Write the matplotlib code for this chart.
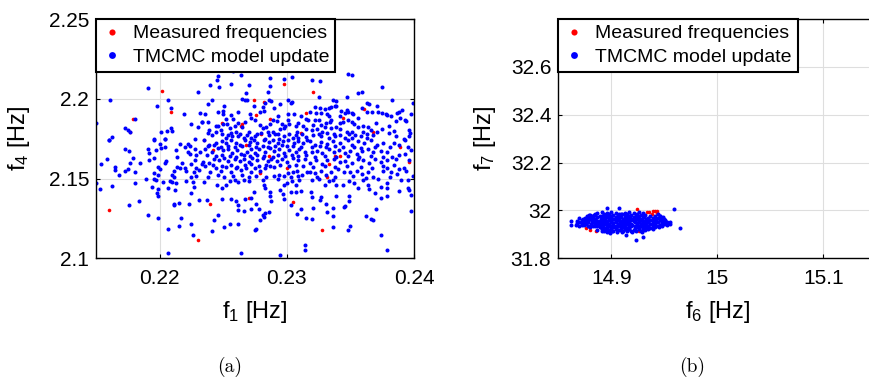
import matplotlib
matplotlib.use('Agg')
import matplotlib.pyplot as plt

plt.rcParams['font.family'] = ['Liberation Sans', 'DejaVu Sans']
plt.rcParams['mathtext.default'] = 'regular'

# ---------------- panel (a): f1 vs f4 ----------------
measured_a = [
    (0.2202, 2.2048), (0.2209, 2.1919), (0.2179, 2.1873), (0.2177, 2.1792),
    (0.2274, 2.1990), (0.2282, 2.1980), (0.2276, 2.1898), (0.2287, 2.1873),
    (0.2298, 2.2094), (0.2321, 2.2040), (0.2249, 2.1850), (0.2265, 2.1844),
    (0.2264, 2.1830), (0.2235, 2.1740), (0.2268, 2.1710), (0.2242, 2.1677),
    (0.2311, 2.1785), (0.2315, 2.1910), (0.2361, 2.1935), (0.2344, 2.1880),
    (0.2368, 2.1790), (0.2389, 2.1698), (0.2396, 2.1606), (0.2338, 2.1640),
    (0.2342, 2.1640), (0.2333, 2.1594), (0.2286, 2.1640), (0.2279, 2.1533),
    (0.2300, 2.1567), (0.2332, 2.1510), (0.2160, 2.1304), (0.2240, 2.1338),
    (0.2230, 2.1113), (0.2270, 2.1379), (0.2305, 2.1354), (0.2328, 2.1175),
    (0.2280, 2.1782),
]

tmcmc_a = [
    # upper left
    (0.2191, 2.2069), (0.2230, 2.2040), (0.2161, 2.1992), (0.2207, 2.1994),
    (0.2198, 2.1952), (0.2209, 2.1944), (0.2219, 2.1902), (0.2232, 2.1911),
    (0.2181, 2.1873), (0.2225, 2.1844), (0.2233, 2.1857), (0.2230, 2.1823),
    (0.2150, 2.1848), (0.2173, 2.1817), (0.2175, 2.1807), (0.2177, 2.1794),
    (0.2209, 2.1815), (0.2206, 2.1798), (0.2210, 2.1798), (0.2201, 2.1790),
    (0.2163, 2.1759), (0.2196, 2.1746), (0.2204, 2.1748), (0.2228, 2.1748),
    (0.2160, 2.1744),
    # lower left
    (0.2160, 2.1740), (0.2173, 2.1688), (0.2176, 2.1673), (0.2179, 2.1631),
    (0.2154, 2.1594), (0.2159, 2.1625), (0.2165, 2.1571), (0.2165, 2.1552),
    (0.2168, 2.1525), (0.2173, 2.1546), (0.2175, 2.1559), (0.2177, 2.1598),
    (0.2181, 2.1540), (0.2191, 2.1688), (0.2192, 2.1658), (0.2192, 2.1615),
    (0.2197, 2.1677), (0.2196, 2.1631), (0.2196, 2.1740), (0.2200, 2.1715),
    (0.2201, 2.1692), (0.2204, 2.1696), (0.2204, 2.1750), (0.2216, 2.1715),
    (0.2214, 2.1636), (0.2222, 2.1719), (0.2220, 2.1696), (0.2224, 2.1704),
    (0.2222, 2.1667), (0.2228, 2.1688), (0.2224, 2.1656), (0.2229, 2.1646),
    (0.2232, 2.1667), (0.2228, 2.1619), (0.2225, 2.1588), (0.2233, 2.1594),
    (0.2229, 2.1567), (0.2231, 2.1552), (0.2227, 2.1538), (0.2225, 2.1509),
    (0.2229, 2.1517), (0.2214, 2.1571), (0.2216, 2.1567), (0.2220, 2.1563),
    (0.2221, 2.1546), (0.2211, 2.1546), (0.2210, 2.1525), (0.2211, 2.1509),
    (0.2204, 2.1598), (0.2199, 2.1575), (0.2200, 2.1559), (0.2196, 2.1532),
    (0.2199, 2.1525), (0.2189, 2.1496), (0.2196, 2.1500), (0.2197, 2.1492),
    (0.2181, 2.1469), (0.2203, 2.1480), (0.2208, 2.1486), (0.2210, 2.1480),
    (0.2213, 2.1471), (0.2221, 2.1484), (0.2150, 2.1473), (0.2153, 2.1434),
    (0.2163, 2.1455), (0.2194, 2.1446), (0.2199, 2.1432), (0.2198, 2.1411),
    (0.2199, 2.1390), (0.2207, 2.1442), (0.2212, 2.1430), (0.2227, 2.1448),
    (0.2225, 2.1411), (0.2231, 2.1363), (0.2184, 2.1361), (0.2176, 2.1332),
    (0.2211, 2.1342), (0.2215, 2.1346), (0.2211, 2.1334), (0.2223, 2.1338),
    (0.2191, 2.1272), (0.2199, 2.1251), (0.2217, 2.1255), (0.2207, 2.1184),
    (0.2215, 2.1203), (0.2225, 2.1213), (0.2226, 2.1147), (0.2207, 2.1030),
    (0.2205, 2.1610), (0.2218, 2.1600), (0.2213, 2.1680), (0.2185, 2.1600),
    (0.2226, 2.1480),
    # upper middle
    (0.2258, 2.2173), (0.2246, 2.2144), (0.2245, 2.2119), (0.2240, 2.2085),
    (0.2247, 2.2073), (0.2256, 2.2094), (0.2264, 2.2152), (0.2270, 2.2089),
    (0.2268, 2.2035), (0.2267, 2.1994), (0.2285, 2.2040), (0.2287, 2.2131),
    (0.2287, 2.2077), (0.2298, 2.2127), (0.2304, 2.2139), (0.2238, 2.1969),
    (0.2241, 2.1994), (0.2251, 2.1956), (0.2246, 2.1919), (0.2250, 2.1923),
    (0.2250, 2.1902), (0.2252, 2.1873), (0.2236, 2.1906), (0.2233, 2.1852),
    (0.2238, 2.1857), (0.2239, 2.1807), (0.2238, 2.1786), (0.2244, 2.1832),
    (0.2244, 2.1790), (0.2248, 2.1802), (0.2250, 2.1844), (0.2255, 2.1815),
    (0.2256, 2.1786), (0.2259, 2.1827), (0.2260, 2.1790), (0.2258, 2.1873),
    (0.2262, 2.1915), (0.2265, 2.1998), (0.2269, 2.1990), (0.2274, 2.1952),
    (0.2271, 2.1902), (0.2275, 2.1865), (0.2279, 2.1915), (0.2282, 2.1923),
    (0.2281, 2.1948), (0.2283, 2.1973), (0.2286, 2.1990), (0.2288, 2.1985),
    (0.2295, 2.1967), (0.2301, 2.1990), (0.2304, 2.1981), (0.2303, 2.1973),
    (0.2290, 2.1940), (0.2289, 2.1869), (0.2287, 2.1840), (0.2292, 2.1861),
    (0.2295, 2.1811), (0.2298, 2.1815), (0.2298, 2.1765), (0.2293, 2.1782),
    (0.2289, 2.1794), (0.2285, 2.1794), (0.2281, 2.1815), (0.2279, 2.1836),
    (0.2267, 2.1857), (0.2265, 2.1823), (0.2270, 2.1794), (0.2275, 2.1765),
    (0.2280, 2.1786), (0.2283, 2.1748), (0.2257, 2.1765), (0.2252, 2.1757),
    (0.2262, 2.1765), (0.2266, 2.1752), (0.2272, 2.1757), (0.2301, 2.1902),
    (0.2301, 2.1869), (0.2302, 2.1844), (0.2307, 2.1827), (0.2311, 2.1890),
    (0.2315, 2.1873), (0.2313, 2.1832), (0.2315, 2.1811), (0.2308, 2.1794),
    (0.2312, 2.1782), (0.2305, 2.1757), (0.2309, 2.1752), (0.2315, 2.1761),
    (0.2294, 2.1748), (0.2299, 2.1827),
    (0.2241, 2.1772), (0.2249, 2.1780), (0.2254, 2.1770), (0.2263, 2.1778),
    (0.2269, 2.1771), (0.2277, 2.1779), (0.2286, 2.1770), (0.2291, 2.1776),
    (0.2302, 2.1779), (0.2307, 2.1771), (0.2246, 2.1830), (0.2253, 2.1840),
    (0.2262, 2.1846), (0.2284, 2.1825), (0.2296, 2.1840), (0.2309, 2.1850),
    (0.2272, 2.1880), (0.2293, 2.1890), (0.2306, 2.1905), (0.2256, 2.1898),
    # lower middle
    (0.2235, 2.1740), (0.2239, 2.1713), (0.2244, 2.1725), (0.2249, 2.1733),
    (0.2252, 2.1725), (0.2256, 2.1740), (0.2260, 2.1725), (0.2263, 2.1713),
    (0.2267, 2.1740), (0.2271, 2.1729), (0.2274, 2.1740), (0.2277, 2.1725),
    (0.2282, 2.1740), (0.2286, 2.1729), (0.2289, 2.1740), (0.2293, 2.1725),
    (0.2297, 2.1733), (0.2301, 2.1740), (0.2306, 2.1725), (0.2309, 2.1733),
    (0.2313, 2.1721), (0.2316, 2.1740),
    (0.2238, 2.1702), (0.2243, 2.1708), (0.2248, 2.1700), (0.2254, 2.1706),
    (0.2259, 2.1698), (0.2265, 2.1704), (0.2270, 2.1709), (0.2276, 2.1700),
    (0.2281, 2.1706), (0.2285, 2.1698), (0.2291, 2.1704), (0.2296, 2.1710),
    (0.2300, 2.1701), (0.2305, 2.1706), (0.2311, 2.1699),
    (0.2236, 2.1688), (0.2241, 2.1667), (0.2246, 2.1692), (0.2250, 2.1677),
    (0.2254, 2.1688), (0.2257, 2.1663), (0.2261, 2.1677), (0.2264, 2.1656),
    (0.2269, 2.1667), (0.2272, 2.1688), (0.2275, 2.1663), (0.2278, 2.1683),
    (0.2283, 2.1667), (0.2287, 2.1692), (0.2290, 2.1671), (0.2294, 2.1688),
    (0.2298, 2.1663), (0.2302, 2.1679), (0.2307, 2.1667), (0.2310, 2.1688),
    (0.2314, 2.1667),
    (0.2237, 2.1648), (0.2244, 2.1641), (0.2249, 2.1650), (0.2255, 2.1644),
    (0.2260, 2.1638), (0.2266, 2.1646), (0.2271, 2.1640), (0.2277, 2.1649),
    (0.2282, 2.1643), (0.2289, 2.1638), (0.2293, 2.1650), (0.2299, 2.1641),
    (0.2304, 2.1647), (0.2309, 2.1640), (0.2315, 2.1648),
    (0.2234, 2.1604), (0.2239, 2.1600), (0.2243, 2.1625), (0.2247, 2.1615),
    (0.2251, 2.1629), (0.2254, 2.1609), (0.2259, 2.1625), (0.2263, 2.1609),
    (0.2266, 2.1621), (0.2270, 2.1604), (0.2273, 2.1629), (0.2277, 2.1613),
    (0.2281, 2.1629), (0.2285, 2.1609), (0.2288, 2.1625), (0.2292, 2.1609),
    (0.2296, 2.1621), (0.2300, 2.1604), (0.2305, 2.1629), (0.2309, 2.1613),
    (0.2314, 2.1625),
    (0.2236, 2.1577), (0.2242, 2.1585), (0.2249, 2.1579), (0.2256, 2.1586),
    (0.2261, 2.1575), (0.2267, 2.1583), (0.2272, 2.1590), (0.2278, 2.1578),
    (0.2284, 2.1586), (0.2290, 2.1574), (0.2295, 2.1583), (0.2302, 2.1577),
    (0.2307, 2.1586), (0.2313, 2.1579),
    (0.2240, 2.1542), (0.2244, 2.1567), (0.2248, 2.1550), (0.2252, 2.1573),
    (0.2256, 2.1542), (0.2260, 2.1567), (0.2264, 2.1552), (0.2268, 2.1563),
    (0.2272, 2.1542), (0.2275, 2.1567), (0.2279, 2.1550), (0.2283, 2.1563),
    (0.2287, 2.1579), (0.2290, 2.1517), (0.2294, 2.1521), (0.2298, 2.1517),
    (0.2301, 2.1534), (0.2305, 2.1542), (0.2308, 2.1550), (0.2312, 2.1521),
    (0.2316, 2.1542),
    (0.2238, 2.1512), (0.2246, 2.1520), (0.2251, 2.1508), (0.2258, 2.1516),
    (0.2265, 2.1522), (0.2270, 2.1510), (0.2276, 2.1518), (0.2284, 2.1512),
    (0.2293, 2.1500), (0.2303, 2.1507), (0.2309, 2.1514),
    (0.2235, 2.1480), (0.2245, 2.1459), (0.2249, 2.1438), (0.2252, 2.1459),
    (0.2255, 2.1484), (0.2259, 2.1490), (0.2262, 2.1480), (0.2266, 2.1492),
    (0.2270, 2.1484), (0.2281, 2.1490), (0.2282, 2.1459), (0.2283, 2.1438),
    (0.2287, 2.1417), (0.2287, 2.1392), (0.2288, 2.1359), (0.2295, 2.1428),
    (0.2297, 2.1401), (0.2298, 2.1371), (0.2300, 2.1469), (0.2304, 2.1484),
    (0.2307, 2.1459), (0.2310, 2.1490), (0.2307, 2.1417), (0.2311, 2.1421),
    (0.2303, 2.1413), (0.2298, 2.1459),
    (0.2237, 2.1365), (0.2249, 2.1371), (0.2256, 2.1371), (0.2260, 2.1359),
    (0.2262, 2.1334), (0.2267, 2.1369), (0.2272, 2.1376), (0.2274, 2.1417),
    (0.2276, 2.1338), (0.2278, 2.1309), (0.2281, 2.1272), (0.2283, 2.1284),
    (0.2286, 2.1288), (0.2272, 2.1309), (0.2266, 2.1297), (0.2262, 2.1303),
    (0.2282, 2.1259), (0.2279, 2.1238), (0.2246, 2.1272), (0.2243, 2.1238),
    (0.2251, 2.1197), (0.2255, 2.1213), (0.2262, 2.1217), (0.2241, 2.1168),
    (0.2275, 2.1176), (0.2276, 2.1184), (0.2264, 2.1034), (0.2295, 2.1022),
    (0.2303, 2.1334), (0.2311, 2.1307), (0.2308, 2.1280), (0.2315, 2.1255),
    (0.2314, 2.1084), (0.2314, 2.1051),
    # upper right
    (0.2348, 2.2156), (0.2351, 2.2152), (0.2320, 2.2119), (0.2326, 2.2110),
    (0.2325, 2.2010), (0.2336, 2.1990), (0.2339, 2.1985), (0.2347, 2.2010),
    (0.2356, 2.2035), (0.2359, 2.2044), (0.2375, 2.2073), (0.2383, 2.1990),
    (0.2322, 2.1948), (0.2326, 2.1940), (0.2330, 2.1936), (0.2333, 2.1940),
    (0.2335, 2.1948), (0.2338, 2.1952), (0.2339, 2.1956), (0.2343, 2.1923),
    (0.2347, 2.1931), (0.2348, 2.1919), (0.2351, 2.1911), (0.2318, 2.1915),
    (0.2323, 2.1911), (0.2327, 2.1911), (0.2332, 2.1906), (0.2333, 2.1890),
    (0.2342, 2.1890), (0.2346, 2.1911), (0.2352, 2.1906), (0.2363, 2.1973),
    (0.2365, 2.1965), (0.2359, 2.1940), (0.2356, 2.1877), (0.2363, 2.1919),
    (0.2367, 2.1919), (0.2371, 2.1952), (0.2372, 2.1915), (0.2375, 2.1911),
    (0.2378, 2.1902), (0.2379, 2.1898), (0.2387, 2.1911), (0.2388, 2.1915),
    (0.2391, 2.1927), (0.2389, 2.1877), (0.2393, 2.1869), (0.2394, 2.1861),
    (0.2398, 2.1902), (0.2399, 2.1973), (0.2317, 2.1869), (0.2322, 2.1869),
    (0.2325, 2.1865), (0.2321, 2.1836), (0.2327, 2.1836), (0.2331, 2.1848),
    (0.2334, 2.1852), (0.2335, 2.1865), (0.2342, 2.1848), (0.2344, 2.1852),
    (0.2348, 2.1869), (0.2351, 2.1857), (0.2356, 2.1823), (0.2360, 2.1832),
    (0.2364, 2.1823), (0.2366, 2.1807), (0.2363, 2.1782), (0.2351, 2.1794),
    (0.2354, 2.1773), (0.2347, 2.1794), (0.2342, 2.1811), (0.2339, 2.1823),
    (0.2335, 2.1815), (0.2332, 2.1786), (0.2328, 2.1794), (0.2324, 2.1811),
    (0.2320, 2.1802), (0.2321, 2.1773), (0.2327, 2.1765), (0.2333, 2.1757),
    (0.2338, 2.1765), (0.2342, 2.1773), (0.2346, 2.1752), (0.2351, 2.1752),
    (0.2358, 2.1765), (0.2363, 2.1757), (0.2368, 2.1773), (0.2375, 2.1811),
    (0.2380, 2.1786), (0.2386, 2.1765), (0.2392, 2.1748), (0.2396, 2.1807),
    (0.2397, 2.1786), (0.2396, 2.1765), (0.2386, 2.1861), (0.2382, 2.1890),
    (0.2325, 2.1782), (0.2337, 2.1778), (0.2349, 2.1780), (0.2360, 2.1790),
    (0.2371, 2.1790), (0.2384, 2.1800), (0.2330, 2.1825), (0.2353, 2.1840),
    (0.2370, 2.1845), (0.2380, 2.1830),
    # lower right
    (0.2318, 2.1733), (0.2322, 2.1708), (0.2327, 2.1729), (0.2332, 2.1717),
    (0.2336, 2.1738), (0.2342, 2.1721), (0.2348, 2.1742), (0.2351, 2.1713),
    (0.2356, 2.1733), (0.2361, 2.1725), (0.2366, 2.1740), (0.2371, 2.1708),
    (0.2376, 2.1721), (0.2384, 2.1725), (0.2388, 2.1708), (0.2393, 2.1740),
    (0.2320, 2.1698), (0.2326, 2.1703), (0.2331, 2.1695), (0.2338, 2.1702),
    (0.2344, 2.1697), (0.2353, 2.1700), (0.2358, 2.1694), (0.2369, 2.1700),
    (0.2381, 2.1696), (0.2395, 2.1700),
    (0.2320, 2.1667), (0.2324, 2.1675), (0.2328, 2.1658), (0.2333, 2.1683),
    (0.2337, 2.1667), (0.2341, 2.1679), (0.2346, 2.1663), (0.2350, 2.1671),
    (0.2355, 2.1654), (0.2359, 2.1675), (0.2364, 2.1688), (0.2368, 2.1667),
    (0.2374, 2.1675), (0.2379, 2.1667), (0.2383, 2.1636), (0.2388, 2.1646),
    (0.2393, 2.1656), (0.2398, 2.1679),
    (0.2322, 2.1638), (0.2330, 2.1642), (0.2339, 2.1636), (0.2348, 2.1640),
    (0.2357, 2.1637), (0.2366, 2.1643), (0.2376, 2.1638), (0.2386, 2.1620),
    (0.2318, 2.1600), (0.2323, 2.1613), (0.2328, 2.1588), (0.2332, 2.1613),
    (0.2337, 2.1625), (0.2342, 2.1604), (0.2346, 2.1609), (0.2351, 2.1600),
    (0.2356, 2.1621), (0.2360, 2.1613), (0.2365, 2.1600), (0.2369, 2.1625),
    (0.2374, 2.1604), (0.2379, 2.1617), (0.2384, 2.1584), (0.2388, 2.1559),
    (0.2392, 2.1567), (0.2394, 2.1550), (0.2396, 2.1613),
    (0.2321, 2.1572), (0.2330, 2.1577), (0.2338, 2.1570), (0.2347, 2.1576),
    (0.2358, 2.1573), (0.2367, 2.1569), (0.2376, 2.1578),
    (0.2318, 2.1542), (0.2322, 2.1534), (0.2327, 2.1550), (0.2331, 2.1525),
    (0.2335, 2.1542), (0.2340, 2.1559), (0.2345, 2.1542), (0.2350, 2.1538),
    (0.2355, 2.1550), (0.2359, 2.1530), (0.2364, 2.1542), (0.2368, 2.1509),
    (0.2372, 2.1500), (0.2376, 2.1546), (0.2379, 2.1567), (0.2382, 2.1542),
    (0.2387, 2.1530), (0.2390, 2.1488), (0.2395, 2.1492), (0.2399, 2.1517),
    (0.2324, 2.1512), (0.2338, 2.1508), (0.2352, 2.1513), (0.2362, 2.1505),
    (0.2381, 2.1508),
    (0.2320, 2.1488), (0.2325, 2.1500), (0.2330, 2.1459), (0.2333, 2.1484),
    (0.2336, 2.1488), (0.2339, 2.1459), (0.2344, 2.1459), (0.2349, 2.1484),
    (0.2353, 2.1475), (0.2356, 2.1442), (0.2360, 2.1492), (0.2364, 2.1459),
    (0.2365, 2.1434), (0.2369, 2.1409), (0.2374, 2.1446), (0.2379, 2.1475),
    (0.2379, 2.1438), (0.2388, 2.1421), (0.2395, 2.1438), (0.2396, 2.1430),
    (0.2398, 2.1396),
    (0.2319, 2.1417), (0.2320, 2.1384), (0.2327, 2.1384), (0.2326, 2.1363),
    (0.2321, 2.1313), (0.2339, 2.1392), (0.2349, 2.1392), (0.2349, 2.1359),
    (0.2345, 2.1322), (0.2346, 2.1326), (0.2331, 2.1342), (0.2332, 2.1292),
    (0.2336, 2.1313), (0.2336, 2.1263), (0.2320, 2.1247), (0.2362, 2.1267),
    (0.2366, 2.1247), (0.2368, 2.1242), (0.2370, 2.1309), (0.2379, 2.1388),
    (0.2374, 2.1380), (0.2398, 2.1297), (0.2350, 2.1205), (0.2348, 2.1176),
    (0.2336, 2.1193), (0.2374, 2.1147), (0.2379, 2.1051),
]

# ---------------- panel (b): f6 vs f7 ----------------
measured_b = [
    (14.924, 32.004), (14.936, 31.992), (14.939, 31.996), (14.943, 31.999),
    (14.943, 31.989), (14.938, 31.984), (14.934, 31.995), (14.876, 31.926),
    (14.880, 31.919), (14.886, 31.916), (14.926, 31.913), (14.941, 31.998),
]

tmcmc_b = [
    (14.887, 31.989), (14.891, 31.992), (14.896, 31.988), (14.900, 31.993),
    (14.904, 31.990), (14.909, 31.987), (14.913, 31.991), (14.917, 31.994),
    (14.921, 31.989), (14.926, 31.992), (14.930, 31.988), (14.944, 31.984),
    (14.885, 31.985), (14.893, 31.986), (14.898, 31.984), (14.907, 31.985),
    (14.915, 31.986), (14.924, 31.984),
    (14.880, 31.979), (14.884, 31.982), (14.889, 31.978), (14.893, 31.981),
    (14.897, 31.977), (14.902, 31.982), (14.906, 31.979), (14.910, 31.983),
    (14.915, 31.978), (14.919, 31.981), (14.923, 31.977), (14.928, 31.982),
    (14.932, 31.979), (14.937, 31.976), (14.941, 31.975), (14.946, 31.978),
    (14.949, 31.972),
    (14.877, 31.975), (14.882, 31.976), (14.887, 31.974), (14.891, 31.977),
    (14.895, 31.975), (14.900, 31.976), (14.904, 31.974), (14.908, 31.977),
    (14.913, 31.975), (14.917, 31.976), (14.921, 31.974), (14.925, 31.977),
    (14.930, 31.975), (14.939, 31.970), (14.947, 31.970),
    (14.875, 31.970), (14.879, 31.973), (14.883, 31.969), (14.887, 31.972),
    (14.892, 31.968), (14.896, 31.973), (14.900, 31.970), (14.905, 31.967),
    (14.909, 31.972), (14.913, 31.969), (14.918, 31.973), (14.922, 31.970),
    (14.926, 31.967), (14.931, 31.972), (14.935, 31.969), (14.940, 31.966),
    (14.944, 31.968), (14.948, 31.965), (14.951, 31.961),
    (14.873, 31.966), (14.877, 31.965), (14.881, 31.967), (14.885, 31.965),
    (14.890, 31.966), (14.894, 31.965), (14.898, 31.967), (14.903, 31.964),
    (14.907, 31.966), (14.911, 31.965), (14.916, 31.967), (14.920, 31.964),
    (14.924, 31.966), (14.929, 31.965), (14.933, 31.964), (14.942, 31.963),
    (14.950, 31.963),
    (14.872, 31.962), (14.876, 31.958), (14.880, 31.963), (14.885, 31.960),
    (14.889, 31.957), (14.893, 31.962), (14.898, 31.959), (14.902, 31.963),
    (14.906, 31.960), (14.911, 31.957), (14.915, 31.962), (14.919, 31.959),
    (14.924, 31.963), (14.928, 31.960), (14.932, 31.957), (14.937, 31.962),
    (14.941, 31.959), (14.946, 31.958), (14.950, 31.955), (14.953, 31.951),
    (14.868, 31.956), (14.874, 31.955), (14.878, 31.957), (14.882, 31.955),
    (14.887, 31.956), (14.891, 31.955), (14.895, 31.957), (14.900, 31.954),
    (14.904, 31.956), (14.908, 31.955), (14.913, 31.957), (14.917, 31.954),
    (14.921, 31.956), (14.926, 31.955), (14.930, 31.953), (14.934, 31.956),
    (14.939, 31.955), (14.943, 31.953), (14.948, 31.952), (14.955, 31.950),
    (14.870, 31.952), (14.874, 31.949), (14.878, 31.953), (14.883, 31.950),
    (14.887, 31.947), (14.891, 31.952), (14.896, 31.949), (14.900, 31.953),
    (14.904, 31.950), (14.909, 31.947), (14.913, 31.952), (14.917, 31.949),
    (14.922, 31.953), (14.926, 31.950), (14.930, 31.947), (14.935, 31.952),
    (14.939, 31.949), (14.944, 31.950), (14.948, 31.946), (14.952, 31.944),
    (14.868, 31.946), (14.872, 31.945), (14.876, 31.947), (14.881, 31.945),
    (14.885, 31.946), (14.889, 31.944), (14.893, 31.947), (14.898, 31.945),
    (14.902, 31.946), (14.906, 31.944), (14.911, 31.946), (14.915, 31.948),
    (14.919, 31.945), (14.924, 31.946), (14.928, 31.944), (14.932, 31.946),
    (14.937, 31.945), (14.941, 31.946), (14.950, 31.947), (14.955, 31.944),
    (14.872, 31.941), (14.876, 31.944), (14.881, 31.940), (14.885, 31.943),
    (14.889, 31.939), (14.894, 31.944), (14.898, 31.941), (14.902, 31.938),
    (14.907, 31.943), (14.911, 31.940), (14.915, 31.944), (14.920, 31.941),
    (14.924, 31.938), (14.928, 31.943), (14.933, 31.940), (14.937, 31.944),
    (14.941, 31.941), (14.946, 31.938), (14.950, 31.942),
    (14.870, 31.936), (14.874, 31.938), (14.878, 31.936), (14.883, 31.937),
    (14.887, 31.935), (14.892, 31.938), (14.896, 31.936), (14.900, 31.934),
    (14.904, 31.937), (14.909, 31.935), (14.913, 31.938), (14.917, 31.936),
    (14.922, 31.934), (14.926, 31.937), (14.930, 31.935), (14.935, 31.937),
    (14.939, 31.935), (14.944, 31.936), (14.948, 31.934),
    (14.880, 31.930), (14.885, 31.934), (14.889, 31.931),
    (14.893, 31.928), (14.898, 31.933), (14.902, 31.930), (14.906, 31.934),
    (14.911, 31.931), (14.915, 31.928), (14.919, 31.933), (14.924, 31.930),
    (14.928, 31.934), (14.932, 31.931), (14.937, 31.928), (14.941, 31.932),
    (14.945, 31.930),
    (14.891, 31.925), (14.896, 31.927), (14.900, 31.925),
    (14.904, 31.928), (14.909, 31.926), (14.913, 31.927), (14.917, 31.925),
    (14.922, 31.927), (14.926, 31.925), (14.930, 31.927), (14.935, 31.926),
    (14.939, 31.924),
    (14.887, 31.920), (14.891, 31.924), (14.895, 31.921),
    (14.900, 31.918), (14.904, 31.923), (14.908, 31.920), (14.913, 31.924),
    (14.917, 31.921), (14.921, 31.918), (14.926, 31.923), (14.930, 31.920),
    (14.935, 31.923),
    (14.893, 31.916), (14.898, 31.918), (14.902, 31.915),
    (14.906, 31.917), (14.911, 31.915), (14.915, 31.917), (14.919, 31.914),
    (14.923, 31.916), (14.928, 31.915), (14.932, 31.917),
    (14.891, 31.913), (14.896, 31.910), (14.901, 31.914), (14.905, 31.911),
    (14.910, 31.908), (14.915, 31.912), (14.920, 31.909),
    (14.929, 31.911),
    # outliers
    (14.862, 31.957), (14.862, 31.939), (14.867, 31.939), (14.870, 31.967),
    (14.872, 31.948), (14.896, 32.012), (14.907, 32.012), (14.923, 31.876),
    (14.930, 31.890), (14.959, 32.004), (14.965, 31.925), (14.953, 31.939),
    (14.914, 31.897), (14.899, 31.904), (14.879, 31.980), (14.946, 31.976),
    (14.951, 31.957),
]

xticks_a = [0.22, 0.23, 0.24]
xticklabels_a = ['0.22', '0.23', '0.24']
yticks_a = [2.1, 2.15, 2.2, 2.25]
yticklabels_a = ['2.1', '2.15', '2.2', '2.25']
xticks_b = [14.9, 15.0, 15.1]
xticklabels_b = ['14.9', '15', '15.1']
yticks_b = [31.8, 32.0, 32.2, 32.4, 32.6]
yticklabels_b = ['31.8', '32', '32.2', '32.4', '32.6']

fig = plt.figure(figsize=(8.7, 3.77), dpi=100)
ax1 = fig.add_axes([0.1103, 0.3149, 0.3655, 0.6347])
ax2 = fig.add_axes([0.6417, 0.3149, 0.3655, 0.6347])


def draw(ax, measured, model, xt, xtl, yt, ytl, xlim, ylim, xlab, ylab, ylx):
    mx, my = zip(*measured)
    bx, by = zip(*model)
    ax.plot(mx, my, 'o', ls='none', color='red', ms=2.6, mew=0,
            label='Measured frequencies')
    ax.plot(bx, by, 'o', ls='none', color='blue', ms=2.9, mew=0,
            label='TMCMC model update')
    ax.set_xlim(*xlim)
    ax.set_ylim(*ylim)
    ax.set_xticks(xt)
    ax.set_xticklabels(xtl)
    ax.set_yticks(yt)
    ax.set_yticklabels(ytl)
    ax.grid(True, color='#dedede', lw=0.8)
    ax.set_axisbelow(True)
    ax.tick_params(direction='in', length=3, width=0.8, labelsize=15,
                   top=True, right=True, pad=5)
    ax.tick_params(axis='x', pad=8)
    for s in ax.spines.values():
        s.set_linewidth(1.0)
        s.set_color('black')
    ax.set_xlabel(xlab, fontsize=17)
    ax.set_ylabel(ylab, fontsize=17)
    ax.xaxis.set_label_coords(0.5, -0.17)
    ax.yaxis.set_label_coords(ylx, 0.5)
    leg = ax.legend(loc='upper left', bbox_to_anchor=(0.0, 1.0), borderaxespad=0,
                    fontsize=14, frameon=True, fancybox=False, edgecolor='black',
                    framealpha=1, markerscale=1.7, handlelength=1.0,
                    handletextpad=0.6, borderpad=0.3, labelspacing=0.3)
    leg.get_frame().set_linewidth(1.5)


draw(ax1, measured_a, tmcmc_a, xticks_a, xticklabels_a, yticks_a, yticklabels_a,
     (0.215, 0.24), (2.1, 2.25), 'f$_1$ [Hz]', 'f$_4$ [Hz]', -0.2)
draw(ax2, measured_b, tmcmc_b, xticks_b, xticklabels_b, yticks_b, yticklabels_b,
     (14.85, 15.15), (31.8, 32.8), 'f$_6$ [Hz]', 'f$_7$ [Hz]', -0.19)
ax2.spines['right'].set_visible(False)
ax2.tick_params(right=False)

fig.text(0.264, 0.027, '(a)', family='cmr10', fontsize=14, ha='center', va='center')
fig.text(0.795, 0.027, '(b)', family='cmr10', fontsize=14, ha='center', va='center')

fig.savefig('out.png', dpi=100)
